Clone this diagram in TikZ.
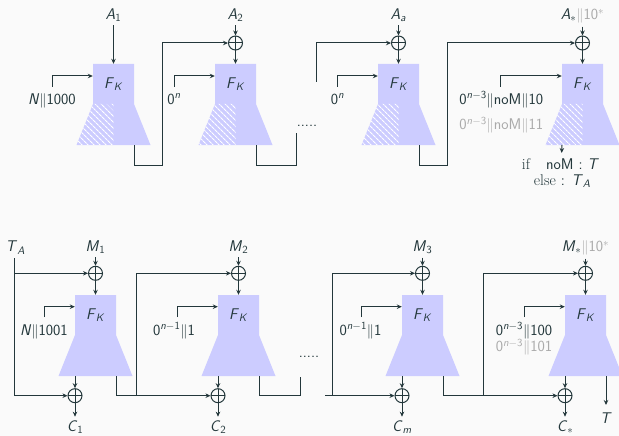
\documentclass[tikz,border=0pt]{standalone}
\usepackage{amsmath}
\usetikzlibrary{arrows.meta,patterns.meta}
\definecolor{dk}{RGB}{35,55,59}
\definecolor{lav}{RGB}{204,204,255}
\definecolor{gr}{RGB}{170,170,170}
\definecolor{bg}{RGB}{250,250,250}
\newcommand\iv[1]{\textit{#1}}
\newcommand\sbs[1]{\textsubscript{#1}}
\newcommand\sps[1]{\textsuperscript{#1}}
\newcommand\dbar{$\|$}
\newcommand\FK{\iv{F}\sbs{\iv{K}}}
% name, cx, top, hatch
\newcommand\blk[4]{%
  \fill[lav] (#2-20.5,#3) -- (#2+20.5,#3) -- (#2+20.5,#3+40) -- (#2+37,#3+81) -- (#2-37,#3+81) -- (#2-20.5,#3+40) -- cycle;
  \ifnum#4=1
    \fill[pattern={Lines[angle=-45,distance=4pt,line width=1.1pt]},pattern color=white] (#2-20.5,#3+40) -- (#2,#3+40) -- (#2,#3+81) -- (#2-37,#3+81) -- cycle;
  \fi
  \node[fk] (#1) at (#2,#3+20) {\FK};
  \coordinate (#1-bl) at (#2-20.5,#3+81);
  \coordinate (#1-br) at (#2+20.5,#3+81);
}
\begin{document}
\begin{tikzpicture}[x=1pt,y=-1pt,
  font=\sffamily\fontsize{15.5}{18}\selectfont, text=dk,
  wire/.style={draw=dk,line width=1pt},
  arr/.style={wire,-{Stealth[length=5pt,width=4.5pt]}},
  xor/.style={circle,draw=dk,line width=1pt,minimum size=14pt,inner sep=0pt,
    path picture={\draw[dk,line width=1pt] (path picture bounding box.north) -- (path picture bounding box.south) (path picture bounding box.west) -- (path picture bounding box.east);}},
  fk/.style={minimum width=41pt,minimum height=40pt,inner sep=0pt},
  lb/.style={anchor=base}]
\fill[bg] (0,0) rectangle (619,436);
\useasboundingbox (0,0) rectangle (619,436);

% ---------------- top row ----------------
\blk{b1}{113.5}{64}{1}
\blk{b2}{235.5}{64}{1}
\blk{ba}{398.5}{64}{1}
\blk{bs}{582.5}{64}{1}

\node[xor] (xa2) at (235.5,43) {};
\node[xor] (xaa) at (398.5,43) {};
\node[xor] (xas) at (582.5,43) {};

\node[lb] (A1) at (113.5,19.5) {\iv{A}\sbs{1}};
\node[lb] (A2) at (235.5,19.5) {\iv{A}\sbs{2}};
\node[lb] (Aa) at (398.5,19.5) {\iv{A}\sbs{\iv{a}}};
\node[lb] (As) at (582.5,19.5) {\iv{A}\sbs{$\ast$}{\color{gr}\dbar 10\sps{$\ast$}}};

\draw[arr] (A1) -- (b1);
\draw[arr] (A2) -- (xa2); \draw[arr] (xa2) -- (b2);
\draw[arr] (Aa) -- (xaa); \draw[arr] (xaa) -- (ba);
\draw[arr] (As) -- (xas); \draw[arr] (xas) -- (bs);

% inputs
\node[lb] (n1) at (52,104) {\iv{N}\dbar 1000};
\node[lb] (n2) at (174,104) {0\sps{\iv{n}}};
\node[lb] (na) at (337.5,104) {0\sps{\iv{n}}};
\node[lb] (ns) at (501.3,104) {0\sps{\iv{n}$-$3}\dbar noM\dbar 10};
\node[lb,text=gr] (ns2) at (501.3,129.5) {0\sps{\iv{n}$-$3}\dbar noM\dbar 11};
\coordinate (i1) at (52,87);
\coordinate (i2) at (174,87);
\coordinate (ia) at (337.7,87);
\coordinate (is) at (500.7,87);
\draw[arr] (i1) |- ([yshift=8pt]b1.west);
\draw[arr] (i2) |- ([yshift=8pt]b2.west);
\draw[arr] (ia) |- ([yshift=8pt]ba.west);
\draw[arr] (is) |- ([yshift=8pt]bs.west);

% chaining
\coordinate (t1) at (162,165.7);
\draw[arr] (b1-br) |- (t1) |- (xa2);
\coordinate (t2) at (296.7,165.7);
\coordinate (t2e) at (296.7,133);
\draw[wire] (b2-br) |- (t2) -- (t2e);
\node[lb] (dt) at (307,127) {.....};
\coordinate (ta) at (316.7,82);
\draw[arr] (ta) |- (xaa);
\coordinate (t3) at (447.7,165.7);
\draw[arr] (ba-br) |- (t3) |- (xas);

% tag output
\coordinate (tg) at (561.7,153);
\draw[arr] (bs-bl) -- (tg);
\node[lb] (if1) at (560.5,169.3) {\textrm{if}\quad noM : \iv{T}};
\node[lb] (if2) at (562.3,185) {\textrm{else} : \iv{T}\sbs{\iv{A}}};

% ---------------- bottom row ----------------
\blk{c1}{95.5}{295}{0}
\blk{c2}{238.5}{295}{0}
\blk{c3}{422.5}{295}{0}
\blk{cs}{585.5}{295}{0}

\node[xor] (xm1) at (95.5,273.3) {};
\node[xor] (xm2) at (238.5,273.3) {};
\node[xor] (xm3) at (422.5,273.3) {};
\node[xor] (xms) at (585.5,273.3) {};
\node[xor] (xo1) at (75,395.7) {};
\node[xor] (xo2) at (218,395.7) {};
\node[xor] (xo3) at (402,395.7) {};
\node[xor] (xos) at (565,395.7) {};

\node[lb] (M1) at (95.5,251.5) {\iv{M}\sbs{1}};
\node[lb] (M2) at (238.5,251.5) {\iv{M}\sbs{2}};
\node[lb] (M3) at (422.5,251.5) {\iv{M}\sbs{3}};
\node[lb] (Ms) at (585.5,251.5) {\iv{M}\sbs{$\ast$}{\color{gr}\dbar 10\sps{$\ast$}}};
\draw[arr] (M1) -- (xm1); \draw[arr] (xm1) -- (c1);
\draw[arr] (M2) -- (xm2); \draw[arr] (xm2) -- (c2);
\draw[arr] (M3) -- (xm3); \draw[arr] (xm3) -- (c3);
\draw[arr] (Ms) -- (xms); \draw[arr] (xms) -- (cs);

\node[lb] (C1) at (75,431) {\iv{C}\sbs{1}};
\node[lb] (C2) at (218,431) {\iv{C}\sbs{2}};
\node[lb] (C3) at (402,431) {\iv{C}\sbs{\iv{m}}};
\node[lb] (Cs) at (565,431) {\iv{C}\sbs{$\ast$}};
\draw[arr] (c1-bl) -- (xo1); \draw[arr] (xo1) -- (C1);
\draw[arr] (c2-bl) -- (xo2); \draw[arr] (xo2) -- (C2);
\draw[arr] (c3-bl) -- (xo3); \draw[arr] (xo3) -- (C3);
\draw[arr] (cs-bl) -- (xos); \draw[arr] (xos) -- (Cs);

% inputs
\node[lb] (m1) at (44,335) {\iv{N}\dbar 1001};
\node[lb] (m2) at (174,335) {0\sps{\iv{n}$-$1}\dbar 1};
\node[lb] (m3) at (360.5,335) {0\sps{\iv{n}$-$1}\dbar 1};
\node[lb] (ms) at (524,335) {0\sps{\iv{n}$-$3}\dbar 100};
\node[lb,text=gr] (ms2) at (524,351.7) {0\sps{\iv{n}$-$3}\dbar 101};
\coordinate (j1) at (44.3,317);
\coordinate (j2) at (177.3,317);
\coordinate (j3) at (361,317);
\coordinate (js) at (524.3,317);
\draw[arr] (j1) |- ([yshift=8.3pt]c1.west);
\draw[arr] (j2) |- ([yshift=8.3pt]c2.west);
\draw[arr] (j3) |- ([yshift=8.3pt]c3.west);
\draw[arr] (js) |- ([yshift=8.3pt]cs.west);

% T_A
\node[lb] (TA) at (15.3,251.5) {\iv{T}\sbs{\iv{A}}};
\coordinate (ta0) at (14,258);
\draw[arr] (ta0) |- (xo1);
\draw[arr] (ta0 |- xm1) -- (xm1);

% chaining
\coordinate (k1) at (136.7,395.7);
\draw[arr] (c1-br) |- (xo2);
\draw[arr] (k1) |- (xm2);
\coordinate (k2) at (300,395.7);
\coordinate (k2e) at (300,376.7);
\draw[wire] (c2-br) |- (k2) -- (k2e);
\node[lb] (db) at (309,357.5) {.....};
\coordinate (s3) at (325,395.7);
\coordinate (k3) at (332.7,395.7);
\draw[arr] (s3) -- (xo3);
\draw[arr] (k3) |- (xm3);
\coordinate (k4) at (483.3,395.7);
\draw[arr] (c3-br) |- (xos);
\draw[arr] (k4) |- (xms);

% final tag
\coordinate (te) at (606,405);
\draw[arr] (cs-br) -- (te);
\node[lb] (T) at (606,423) {\iv{T}};
\end{tikzpicture}
\end{document}
